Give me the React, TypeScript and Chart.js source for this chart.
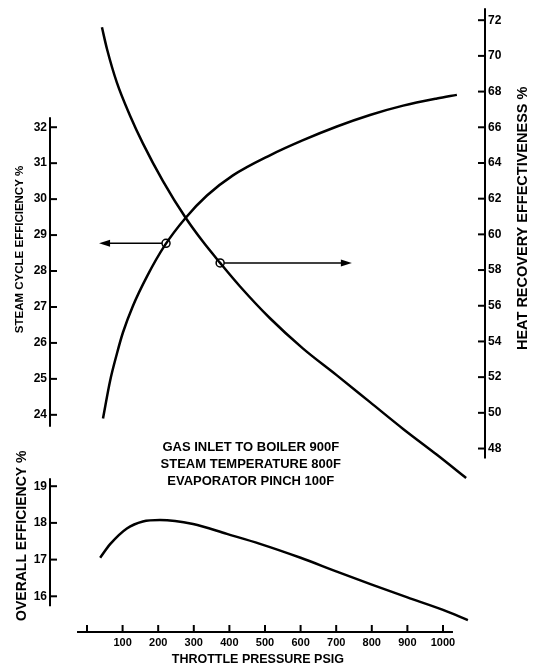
import React, { useEffect, useRef } from "react";
import { Chart, registerables } from "chart.js";

Chart.register(...registerables);

// ---- tick labels ----
const xTicks = [0, 100, 200, 300, 400, 500, 600, 700, 800, 900, 1000];
const steamTicks = [24, 25, 26, 27, 28, 29, 30, 31, 32];
const heatTicks = [48, 50, 52, 54, 56, 58, 60, 62, 64, 66, 68, 70, 72];
const overallTicks = [16, 17, 18, 19];

// ---- series (throttle pressure psig vs value) ----
const steamPressure = [45, 65, 84, 101, 129, 169, 219, 278, 337, 410, 514, 607, 702, 795, 888, 983, 1039];
const steamEfficiency = [23.9, 24.95, 25.7, 26.29, 27.03, 27.86, 28.72, 29.49, 30.1, 30.66, 31.22, 31.64, 32.02, 32.34, 32.6, 32.8, 32.9];

const heatPressure = [42, 56, 84, 121, 157, 213, 278, 326, 374, 430, 514, 607, 702, 795, 888, 983, 1065];
const heatEffectiveness = [71.6, 70.4, 68.5, 66.65, 65.1, 63.0, 60.9, 59.58, 58.4, 57.08, 55.3, 53.6, 52.1, 50.6, 49.1, 47.65, 46.35];

const overallPressure = [37, 65, 112, 157, 205, 298, 393, 486, 600, 700, 800, 900, 1000, 1070];
const overallEfficiency = [17.05, 17.42, 17.85, 18.04, 18.08, 17.97, 17.7, 17.43, 17.05, 16.68, 16.32, 15.97, 15.63, 15.35];

// ---- annotations ----
const noteLines = ["GAS INLET TO BOILER 900F", "STEAM TEMPERATURE 800F", "EVAPORATOR PINCH 100F"];
const steamArrowX = [222, 34];
const steamArrowY = 28.77;
const heatArrowX = [374, 744];
const heatArrowY = 58.4;

const xTitle = "THROTTLE PRESSURE PSIG";
const steamTitle = "STEAM CYCLE EFFICIENCY %";
const heatTitle = "HEAT RECOVERY EFFECTIVENESS %";
const overallTitle = "OVERALL EFFICIENCY %";

const FONT = '"Liberation Sans", Arial, sans-serif';

const toPoints = (xs: number[], ys: number[]) => xs.map((x, i) => ({ x, y: ys[i] }));

function setTicks(values: number[]) {
  return (scale: any) => {
    scale.ticks = values.map((v) => ({ value: v }));
  };
}

function vText(ctx: CanvasRenderingContext2D, text: string, cx: number, cy: number, font: string) {
  ctx.save();
  ctx.translate(cx, cy);
  ctx.rotate(-Math.PI / 2);
  ctx.font = font;
  ctx.textAlign = "center";
  ctx.textBaseline = "middle";
  ctx.fillText(text, 0, 0);
  ctx.restore();
}

function seg(ctx: CanvasRenderingContext2D, x1: number, y1: number, x2: number, y2: number) {
  ctx.beginPath();
  ctx.moveTo(x1, y1);
  ctx.lineTo(x2, y2);
  ctx.stroke();
}

function arrow(ctx: CanvasRenderingContext2D, x1: number, y: number, x2: number) {
  const dir = x2 > x1 ? 1 : -1;
  ctx.lineWidth = 1.5;
  seg(ctx, x1 + dir * 4, y, x2 - dir * 8, y);
  ctx.beginPath();
  ctx.moveTo(x2, y);
  ctx.lineTo(x2 - dir * 11, y - 3.5);
  ctx.lineTo(x2 - dir * 11, y + 3.5);
  ctx.closePath();
  ctx.fill();
  ctx.beginPath();
  ctx.arc(x1, y, 4, 0, Math.PI * 2);
  ctx.stroke();
}

const decorPlugin = {
  id: "decor",
  afterDatasetsDraw(chart: any) {
    const ctx: CanvasRenderingContext2D = chart.ctx;
    const { x, ySteam, yHeat, yOverall } = chart.scales;
    const area = chart.chartArea;
    ctx.save();
    ctx.strokeStyle = "#000";
    ctx.fillStyle = "#000";
    ctx.lineWidth = 2;

    // steam axis (left, top panel)
    const lx = area.left;
    seg(ctx, lx, ySteam.getPixelForValue(32.28), lx, ySteam.getPixelForValue(23.67));
    steamTicks.forEach((v) => {
      const py = ySteam.getPixelForValue(v);
      seg(ctx, lx, py, lx + 7, py);
    });

    // overall axis (left, bottom panel)
    seg(ctx, lx, yOverall.getPixelForValue(19.22), lx, yOverall.getPixelForValue(15.73));
    overallTicks.forEach((v) => {
      const py = yOverall.getPixelForValue(v);
      seg(ctx, lx, py, lx + 7, py);
    });

    // heat recovery axis (right)
    const rx = area.right;
    seg(ctx, rx, yHeat.getPixelForValue(72.67), rx, yHeat.getPixelForValue(47.44));
    heatTicks.forEach((v) => {
      const py = yHeat.getPixelForValue(v);
      seg(ctx, rx - 7, py, rx, py);
    });

    // x axis
    const by = area.bottom;
    seg(ctx, x.getPixelForValue(-28), by, x.getPixelForValue(1028), by);
    xTicks.forEach((v) => {
      const px = x.getPixelForValue(v);
      seg(ctx, px, by, px, by - 7);
    });

    // arrows with circles
    arrow(ctx, x.getPixelForValue(steamArrowX[0]), ySteam.getPixelForValue(steamArrowY), x.getPixelForValue(steamArrowX[1]));
    arrow(ctx, x.getPixelForValue(heatArrowX[0]), yHeat.getPixelForValue(heatArrowY), x.getPixelForValue(heatArrowX[1]));

    // note text
    ctx.font = `bold 13px ${FONT}`;
    ctx.textAlign = "center";
    ctx.textBaseline = "middle";
    const nx = x.getPixelForValue(460);
    const ny = yHeat.getPixelForValue(48.06);
    noteLines.forEach((t, i) => ctx.fillText(t, nx, ny + i * 17));

    // axis titles
    vText(ctx, steamTitle, lx - 30, ySteam.getPixelForValue(28.6), `bold 11.5px ${FONT}`);
    vText(ctx, overallTitle, lx - 28, yOverall.getPixelForValue(17.65), `bold 14px ${FONT}`);
    vText(ctx, heatTitle, rx + 38, yHeat.getPixelForValue(60.9), `bold 14.5px ${FONT}`);
    ctx.font = `bold 12.5px ${FONT}`;
    ctx.textAlign = "center";
    ctx.textBaseline = "middle";
    ctx.fillText(xTitle, x.getPixelForValue(480), by + 28);
    ctx.restore();
  },
};

export default function App() {
  const ref = useRef<HTMLCanvasElement | null>(null);

  useEffect(() => {
    if (!ref.current) return;
    const lineStyle = {
      borderColor: "#000",
      borderWidth: 2.5,
      pointRadius: 0,
      fill: false,
      cubicInterpolationMode: "monotone" as const,
    };
    const tickFont = { family: FONT, size: 12, weight: "bold" as const };
    const chart = new Chart(ref.current, {
      type: "line",
      data: {
        datasets: [
          { ...lineStyle, label: "Steam cycle efficiency", data: toPoints(steamPressure, steamEfficiency), yAxisID: "ySteam" },
          { ...lineStyle, label: "Heat recovery effectiveness", data: toPoints(heatPressure, heatEffectiveness), yAxisID: "yHeat" },
          { ...lineStyle, label: "Overall efficiency", data: toPoints(overallPressure, overallEfficiency), yAxisID: "yOverall" },
        ],
      },
      options: {
        responsive: false,
        animation: false,
        devicePixelRatio: 1,
        layout: { padding: { top: 5, left: 0, right: 0, bottom: 0 } },
        plugins: { legend: { display: false }, tooltip: { enabled: false }, title: { display: false } },
        scales: {
          x: {
            type: "linear",
            position: "bottom",
            min: -103.9,
            max: 1118,
            afterBuildTicks: setTicks(xTicks),
            afterFit: (s: any) => {
              s.height = 38;
            },
            grid: { display: false, drawTicks: false },
            border: { display: false },
            ticks: {
              color: "#000",
              font: { family: FONT, size: 11, weight: "bold" },
              padding: 4,
              maxRotation: 0,
              autoSkip: false,
              callback: (v: any) => (v === 0 ? "" : String(v)),
            },
          },
          yOverall: {
            type: "linear",
            position: "left",
            stack: "left",
            stackWeight: 162,
            min: 15.027,
            max: 19.405,
            afterBuildTicks: setTicks(overallTicks),
            afterFit: (s: any) => {
              s.width = 50;
            },
            grid: { display: false, drawTicks: false },
            border: { display: false },
            ticks: { color: "#000", font: tickFont, padding: 3, autoSkip: false },
          },
          ySteam: {
            type: "linear",
            position: "left",
            stack: "left",
            stackWeight: 465,
            min: 22.428,
            max: 35.255,
            afterBuildTicks: setTicks(steamTicks),
            afterFit: (s: any) => {
              s.width = 50;
            },
            grid: { display: false, drawTicks: false },
            border: { display: false },
            ticks: { color: "#000", font: tickFont, padding: 3, autoSkip: false },
          },
          yHeat: {
            type: "linear",
            position: "right",
            min: 37.72,
            max: 72.56,
            afterBuildTicks: setTicks(heatTicks),
            afterFit: (s: any) => {
              s.width = 48;
            },
            grid: { display: false, drawTicks: false },
            border: { display: false },
            ticks: { color: "#000", font: tickFont, padding: 3, autoSkip: false },
          },
        },
      },
      plugins: [decorPlugin],
    });
    return () => chart.destroy();
  }, []);

  return (
    <div style={{ position: "fixed", left: 0, top: 0, width: 533, height: 670, background: "#fff" }}>
      <canvas ref={ref} width={533} height={670} style={{ width: 533, height: 670, display: "block" }} />
    </div>
  );
}
